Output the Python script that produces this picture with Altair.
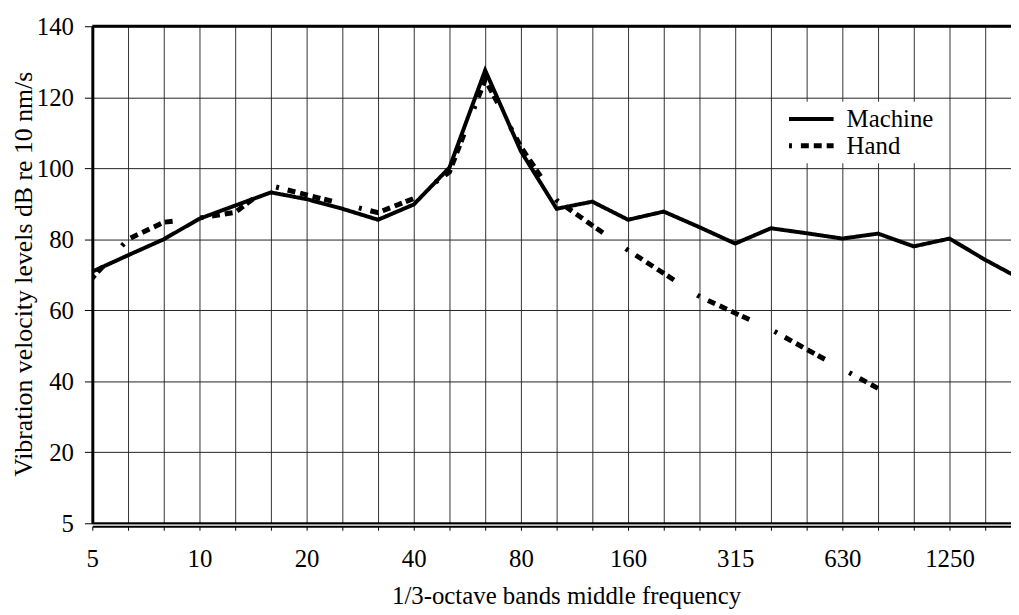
import altair as alt
import pandas as pd

# 1/3-octave band centre frequencies (Hz)
bands = ["5", "6.3", "8", "10", "12.5", "16", "20", "25", "31.5", "40", "50", "63",
         "80", "100", "125", "160", "200", "250", "315", "400", "500", "630", "800",
         "1000", "1250", "1600", "2000"]
tick_labels = ["5", "10", "20", "40", "80", "160", "315", "630", "1250"]

# Vibration velocity levels, dB re 10 nm/s
machine = [70.9, 75.5, 80.0, 85.8, 89.5, 93.2, 91.3, 88.6, 85.5, 89.8, 100.2, 127.6,
           104.8, 88.6, 90.6, 85.5, 87.8, 83.4, 78.8, 83.1, 81.7, 80.2, 81.6, 78.0,
           80.2, 74.2, 68.8]
hand = [69.1, 80.0, 84.8, 86.0, 87.6, 95.1, 92.5, 90.0, 87.5, 91.5, 99.0, 125.0,
        106.0, 91.0, 83.9, 76.9, 70.4, 63.9, 59.2, 54.6, 49.0, 43.5, 38.0]

series_names = ["Machine", "Hand"]
y_ticks = [0, 20, 40, 60, 80, 100, 120, 140]

rows = []
for name, vals in zip(series_names, [machine, hand]):
    for i, v in enumerate(vals):
        rows.append({"idx": i, "band": bands[i], "series": name, "level": v})
df = pd.DataFrame(rows)

FONT = "Liberation Serif"
x_lab = [b if b in tick_labels else "" for b in bands]
x_label_expr = "[" + ",".join("'%s'" % l for l in x_lab) + "][datum.value]"

PLOT_W = 926
PLOT_H = 501
BAND_PX = 36.0

x_scale = alt.Scale(domain=[0, PLOT_W / BAND_PX], nice=False, zero=False)
y_scale = alt.Scale(domain=[0, 140], nice=False)

lines = alt.Chart(df).mark_line(strokeJoin="miter", clip=True, strokeDashOffset=42).encode(
    x=alt.X("idx:Q", scale=x_scale,
            axis=alt.Axis(values=list(range(0, 26)), labelExpr=x_label_expr,
                          title="1/3-octave bands middle frequency",
                          offset=3, domainWidth=2, domainColor="black",
                          tickSize=4, tickColor="black", tickWidth=1,
                          labelBaseline="alphabetic", labelPadding=37,
                          labelFontSize=25, labelFont=FONT, labelColor="black",
                          labelFlush=False, labelOverlap=False,
                          titleFont=FONT, titleFontSize=25, titleFontWeight="normal",
                          titleColor="black", titleX=477.5, titleY=77.5,
                          titleAlign="center", titleBaseline="alphabetic",
                          grid=True, gridColor="#333333", gridWidth=1)),
    y=alt.Y("level:Q", scale=y_scale,
            axis=alt.Axis(values=y_ticks,
                          labelExpr="datum.value == 0 ? '5' : datum.label",
                          title="Vibration velocity levels dB re 10 nm/s",
                          domainWidth=3, domainColor="black",
                          tickSize=8, tickColor="black", tickWidth=1,
                          labelPadding=11, labelFontSize=25, labelFont=FONT,
                          labelColor="black", labelFlush=False,
                          titleFont=FONT, titleFontSize=26, titleFontWeight="normal",
                          titleColor="black", titleX=-61, titleY=249.5,
                          titleAngle=270, titleAlign="center",
                          titleBaseline="alphabetic",
                          grid=True, gridColor="#222222", gridWidth=1)),
    color=alt.value("black"),
    strokeWidth=alt.StrokeWidth("series:N",
                                scale=alt.Scale(domain=series_names, range=[4, 5]),
                                legend=None),
    strokeDash=alt.StrokeDash(
        "series:N",
        scale=alt.Scale(domain=series_names,
                        range=[[1, 0], [3, 9, 8, 5, 8, 5, 8, 4, 8, 28]]),
        legend=alt.Legend(title=None, orient="none", legendX=695.7, legendY=76,
                          symbolType="stroke", symbolSize=2025, symbolStrokeWidth=4,
                          symbolStrokeColor="black", labelFont=FONT, labelFontSize=25,
                          labelColor="black", labelOffset=10.6, fillColor="white",
                          padding=4, rowPadding=0, clipHeight=27)),
    detail="series:N",
)

top_rule = alt.Chart(alt.Data(values=[{}])).mark_rule(color="black", strokeWidth=3).encode(
    y=alt.datum(140, scale=y_scale))
bottom_rule = alt.Chart(alt.Data(values=[{}])).mark_rule(color="black", strokeWidth=2).encode(
    y=alt.datum(0, scale=y_scale))

chart = alt.layer(lines, top_rule, bottom_rule).properties(
    width=PLOT_W, height=PLOT_H,
    autosize=alt.AutoSizeParams(type="none"),
    padding={"left": 85, "top": 16, "right": 0, "bottom": 87},
    background="white",
).configure_view(stroke=None)

chart.save("out.html", embed_options={"renderer": "svg", "actions": False})
